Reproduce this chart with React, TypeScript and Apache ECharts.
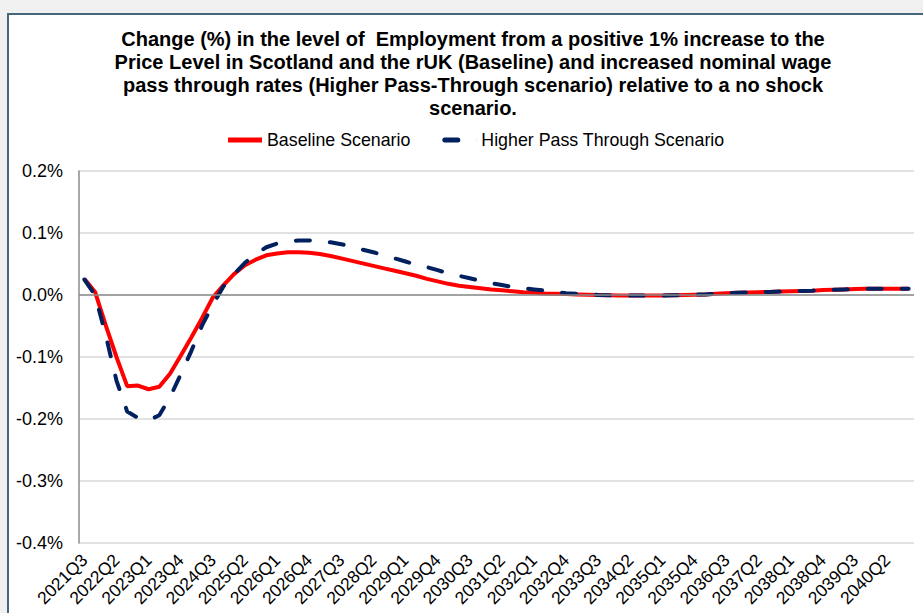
import React, { useEffect, useRef } from "react";
import * as echarts from "echarts";

const categories: string[] = [
  "2021Q3","2021Q4","2022Q1","2022Q2","2022Q3","2022Q4","2023Q1","2023Q2","2023Q3","2023Q4",
  "2024Q1","2024Q2","2024Q3","2024Q4","2025Q1","2025Q2","2025Q3","2025Q4","2026Q1","2026Q2",
  "2026Q3","2026Q4","2027Q1","2027Q2","2027Q3","2027Q4","2028Q1","2028Q2","2028Q3","2028Q4",
  "2029Q1","2029Q2","2029Q3","2029Q4","2030Q1","2030Q2","2030Q3","2030Q4","2031Q1","2031Q2",
  "2031Q3","2031Q4","2032Q1","2032Q2","2032Q3","2032Q4","2033Q1","2033Q2","2033Q3","2033Q4",
  "2034Q1","2034Q2","2034Q3","2034Q4","2035Q1","2035Q2","2035Q3","2035Q4","2036Q1","2036Q2",
  "2036Q3","2036Q4","2037Q1","2037Q2","2037Q3","2037Q4","2038Q1","2038Q2","2038Q3","2038Q4",
  "2039Q1","2039Q2","2039Q3","2039Q4","2040Q1","2040Q2","2040Q3","2040Q4",
];

// values in percent
const baseline: number[] = [
  0.026, 0.005, -0.049, -0.1, -0.147, -0.146, -0.152, -0.148, -0.127, -0.098,
  -0.068, -0.037, -0.004, 0.016, 0.034, 0.048, 0.057, 0.064, 0.067, 0.069,
  0.069, 0.068, 0.066, 0.063, 0.059, 0.055, 0.051, 0.047, 0.043, 0.039,
  0.035, 0.031, 0.026, 0.022, 0.018, 0.015, 0.013, 0.011, 0.009, 0.0075,
  0.006, 0.0045, 0.0035, 0.0025, 0.002, 0.0015, 0.001, 0.0005, 0.0, -0.0005,
  -0.001, -0.001, -0.001, -0.001, -0.001, -0.0005, 0.0, 0.0005, 0.001, 0.002,
  0.003, 0.0035, 0.004, 0.0045, 0.005, 0.0055, 0.006, 0.0065, 0.007, 0.008,
  0.0085, 0.009, 0.0095, 0.01, 0.01, 0.01, 0.01, 0.01,
];

const higherPassThrough: number[] = [
  0.025, 0.0, -0.065, -0.138, -0.188, -0.198, -0.202, -0.194, -0.165, -0.128,
  -0.09, -0.049, -0.016, 0.014, 0.034, 0.052, 0.066, 0.077, 0.083, 0.086,
  0.088, 0.088, 0.087, 0.085, 0.082, 0.078, 0.073, 0.069, 0.064, 0.059,
  0.054, 0.049, 0.045, 0.04, 0.035, 0.031, 0.027, 0.023, 0.019, 0.016,
  0.013, 0.011, 0.009, 0.007, 0.005, 0.003, 0.002, 0.001, 0.0, -0.0005,
  -0.001, -0.001, -0.001, -0.001, -0.001, -0.0005, 0.0, 0.0005, 0.001, 0.002,
  0.003, 0.0035, 0.004, 0.0045, 0.005, 0.0055, 0.006, 0.0065, 0.007, 0.008,
  0.0085, 0.009, 0.0095, 0.01, 0.01, 0.01, 0.01, 0.01,
];

const seriesNames = ["Baseline Scenario", "Higher Pass Through Scenario"];
const titleText =
  "Change (%) in the level of  Employment from a positive 1% increase to the\n" +
  "Price Level in Scotland and the rUK (Baseline) and increased nominal wage\n" +
  "pass through rates (Higher Pass-Through scenario) relative to a no shock\n" +
  "scenario.";

const FONT = "'Liberation Sans', Arial, sans-serif";

export default function App() {
  const ref = useRef<HTMLDivElement>(null);
  useEffect(() => {
    if (!ref.current) return;
    const chart = echarts.init(ref.current, undefined, { renderer: "svg" });
    chart.setOption({
      animation: false,
      textStyle: { fontFamily: FONT },
      graphic: [
        {
          type: "text",
          x: 473,
          y: 27,
          style: {
            text: titleText,
            font: `bold 20px ${FONT}`,
            fill: "#000",
            textAlign: "center",
            textVerticalAlign: "top",
            lineHeight: 23,
          },
        },
      ],
      legend: {
        left: 228,
        top: 131,
        padding: 0,
        itemWidth: 34,
        itemHeight: 5,
        itemGap: 32,
        textStyle: { fontSize: 17.8, color: "#000", fontFamily: FONT },
        data: [
          { name: seriesNames[0], icon: "path://M0,0H34V5H0Z" },
          {
            name: seriesNames[1],
            icon: "path://M2.5,0H15.5A2.5,2.5 0 0 1 15.5,5H2.5A2.5,2.5 0 0 1 2.5,0Z M33.95,0H34V5H33.95Z",
          },
        ],
      },
      grid: { left: 79, right: 9, top: 171, bottom: 70, containLabel: false },
      xAxis: {
        type: "category",
        data: categories,
        boundaryGap: true,
        axisLine: { show: false },
        axisTick: { show: false },
        axisLabel: {
          interval: 2,
          rotate: 45,
          margin: 14,
          fontSize: 17.5,
          color: "#000",
          fontFamily: FONT,
        },
        splitLine: { show: false },
      },
      yAxis: {
        type: "value",
        min: -0.4,
        max: 0.2,
        interval: 0.1,
        axisLine: { show: true, lineStyle: { color: "#8c8c8c", width: 1.5 } },
        axisTick: { show: false },
        axisLabel: {
          margin: 16,
          fontSize: 18,
          color: "#000",
          fontFamily: FONT,
          formatter: (v: number) => v.toFixed(1) + "%",
        },
        splitLine: { show: true, lineStyle: { color: "#d9d9d9", width: 1.5 } },
      },
      series: [
        {
          name: seriesNames[0],
          type: "line",
          data: baseline,
          showSymbol: false,
          symbol: "none",
          lineStyle: { color: "#ff0000", width: 4 },
          itemStyle: { color: "#ff0000" },
          markLine: {
            silent: true,
            symbol: "none",
            label: { show: false },
            lineStyle: { color: "#8c8c8c", width: 1.5, type: "solid" },
            data: [{ yAxis: 0 }],
          },
          z: 2,
        },
        {
          name: seriesNames[1],
          type: "line",
          data: higherPassThrough,
          showSymbol: false,
          symbol: "none",
          lineStyle: { color: "#002060", width: 4, type: [14, 20], cap: "round" },
          itemStyle: { color: "#002060" },
          z: 3,
        },
      ],
    });
    return () => chart.dispose();
  }, []);

  return (
    <div
      style={{
        position: "fixed",
        left: 0,
        top: 0,
        width: 923,
        height: 613,
        background: "#f0f0f0",
        overflow: "hidden",
      }}
    >
      <div
        style={{
          position: "absolute",
          left: 7,
          top: 13,
          width: 940,
          height: 640,
          background: "#fff",
          border: "2px solid #46667c",
          boxSizing: "border-box",
        }}
      />
      <div
        ref={ref}
        style={{ position: "absolute", left: 0, top: 0, width: 923, height: 613 }}
      />
    </div>
  );
}
